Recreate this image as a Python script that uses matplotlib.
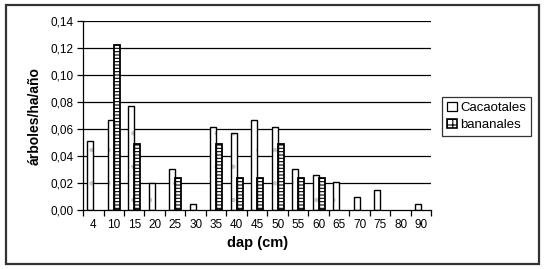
import matplotlib
matplotlib.use("Agg")
import matplotlib.pyplot as plt
import numpy as np
from matplotlib.patches import Rectangle, Patch

categories = ["4", "10", "15", "20", "25", "30", "35", "40", "45", "50",
              "55", "60", "65", "70", "75", "80", "90"]
cacaotales = [0.051, 0.067, 0.077, 0.020, 0.031, 0.005, 0.062, 0.057, 0.067,
              0.062, 0.031, 0.026, 0.021, 0.010, 0.015, 0.0, 0.005]
bananales = [0.0, 0.122, 0.049, 0.0, 0.024, 0.0, 0.049, 0.024, 0.024,
             0.049, 0.024, 0.024, 0.0, 0.0, 0.0, 0.0, 0.0]
yticks = [0.00, 0.02, 0.04, 0.06, 0.08, 0.10, 0.12, 0.14]

plt.rcParams['font.family'] = ['Liberation Sans', 'DejaVu Sans']
plt.rcParams['hatch.linewidth'] = 0.8

fig = plt.figure(figsize=(5.45, 2.69), dpi=100)
ax = fig.add_axes([0.1523, 0.2175, 0.6394, 0.7045])

x = np.arange(len(categories))
w = 1 / 3.5
cac = np.array(cacaotales)
ban = np.array(bananales)
mc = cac > 0
mb = ban > 0

# gridlines
for yv in yticks[1:]:
    ax.axhline(yv, color='black', lw=0.9, zorder=1)

# cacaotales: white with faint dots
ax.bar(x[mc] - w / 2, cac[mc], width=w, facecolor='white', edgecolor='#c8c8c8',
       hatch='.', lw=0, zorder=2)
ax.bar(x[mc] - w / 2, cac[mc], width=w, facecolor='none', edgecolor='black',
       lw=1.0, zorder=3)
# bananales: checkered (column of small white squares)
ax.bar(x[mb] + w / 2, ban[mb], width=w, facecolor='white', edgecolor='black',
       hatch='-----', lw=1.3, zorder=2)

ax.set_xlim(-0.5, len(categories) - 0.5)
ax.set_ylim(0, 0.14)
ax.set_yticks(yticks)
ax.set_yticklabels([f"{v:.2f}".replace('.', ',') for v in yticks], fontsize=8.5)

ax.set_xticks(np.arange(-0.5, len(categories), 1.0))
ax.set_xticklabels([])
ax.set_xticks(x, minor=True)
ax.set_xticklabels(categories, minor=True, fontsize=8.5)
ax.tick_params(axis='x', which='minor', length=0, pad=6)
ax.tick_params(axis='x', which='major', length=4, width=0.9, direction='out')
ax.tick_params(axis='y', length=4, width=0.9, direction='out', pad=2.5)

for s in ['top', 'right']:
    ax.spines[s].set_visible(False)
for s in ['left', 'bottom']:
    ax.spines[s].set_linewidth(0.9)
    ax.spines[s].set_zorder(4)

ax.set_ylabel("árboles/ha/año", fontsize=10, fontweight='bold', labelpad=7)
ax.set_xlabel("dap (cm)", fontsize=10.5, fontweight='bold', labelpad=4)

handles = [Patch(facecolor='white', edgecolor='black', lw=0.9),
           Patch(facecolor='white', edgecolor='black', hatch='+++', lw=1.2)]
leg = fig.legend(handles, ["Cacaotales", "bananales"],
                 loc='upper left', bbox_to_anchor=(442 / 545, 1 - 97 / 269),
                 fontsize=9.5, frameon=True, fancybox=False, edgecolor='black',
                 handlelength=0.75, handleheight=0.75, handletextpad=0.3,
                 borderpad=0.35, labelspacing=0.35, borderaxespad=0)
leg.get_frame().set_linewidth(0.9)

fig.patches.append(Rectangle((6 / 545, 5 / 269), 533 / 545, 259 / 269,
                             transform=fig.transFigure, fill=False,
                             edgecolor='#333333', lw=1.6))

fig.savefig("out.png", dpi=100)
